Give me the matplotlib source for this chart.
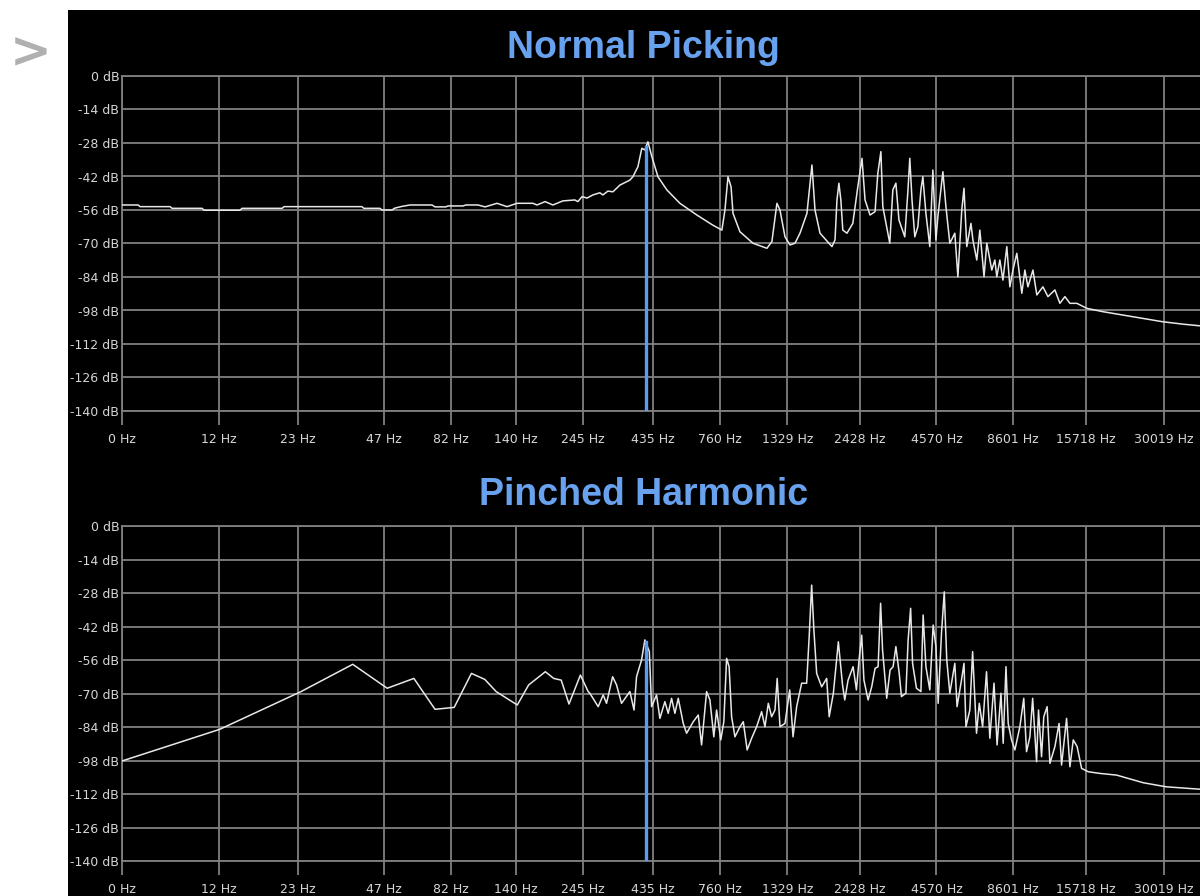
import numpy as np
import matplotlib
matplotlib.use("Agg")
import matplotlib.pyplot as plt
from matplotlib.patches import Rectangle
from matplotlib.ticker import NullLocator

# axis labels as printed by the analyzer ("0 Hz" is the left edge of the log axis)
tick_hz = [5.37, 12, 23, 47, 82, 140, 245, 435, 760, 1329, 2428, 4570, 8601, 15718, 30019]
tick_labels = ["0 Hz", "12 Hz", "23 Hz", "47 Hz", "82 Hz", "140 Hz", "245 Hz", "435 Hz",
               "760 Hz", "1329 Hz", "2428 Hz", "4570 Hz", "8601 Hz", "15718 Hz", "30019 Hz"]
db_ticks = [0, -14, -28, -42, -56, -70, -84, -98, -112, -126, -140]
f_max_log = 4.608

# Normal picking spectrum (log10 Hz, dB)
normal_logf = [0.730, 0.788, 0.795, 0.903, 0.910, 1.018, 1.025, 1.154, 1.162, 1.306,
               1.313, 1.593, 1.600, 1.658, 1.665, 1.701, 1.712, 1.737, 1.766, 1.845,
               1.856, 1.895, 1.903, 1.957, 1.967, 2.011, 2.036, 2.079, 2.115, 2.151,
               2.208, 2.223, 2.252, 2.280, 2.316, 2.359, 2.370, 2.385, 2.403, 2.424,
               2.449, 2.460, 2.478, 2.496, 2.521, 2.557, 2.568, 2.586, 2.600, 2.611,
               2.622, 2.636, 2.658, 2.690, 2.737, 2.798, 2.855, 2.888, 2.899, 2.910,
               2.921, 2.928, 2.953, 3.000, 3.050, 3.068, 3.086, 3.097, 3.115, 3.133,
               3.151, 3.169, 3.194, 3.212, 3.223, 3.241, 3.284, 3.295, 3.302, 3.309,
               3.316, 3.323, 3.338, 3.359, 3.377, 3.392, 3.403, 3.421, 3.439, 3.449,
               3.460, 3.467, 3.492, 3.503, 3.514, 3.525, 3.546, 3.557, 3.564, 3.572,
               3.582, 3.593, 3.604, 3.611, 3.622, 3.636, 3.647, 3.658, 3.665, 3.683,
               3.694, 3.708, 3.726, 3.737, 3.751, 3.759, 3.769, 3.784, 3.791, 3.805,
               3.816, 3.831, 3.841, 3.859, 3.870, 3.877, 3.888, 3.899, 3.913, 3.924,
               3.935, 3.949, 3.967, 3.978, 3.989, 4.007, 4.021, 4.043, 4.061, 4.086,
               4.104, 4.122, 4.140, 4.165, 4.201, 4.259, 4.331, 4.403, 4.474, 4.546,
               4.608]
normal_db = [-53.9, -53.9, -54.6, -54.6, -55.3, -55.3, -56.1, -56.1, -55.3, -55.3,
             -54.6, -54.6, -55.3, -55.3, -56.0, -56.0, -55.2, -54.5, -53.9, -53.9,
             -54.7, -54.7, -54.3, -54.3, -53.9, -53.9, -54.7, -53.2, -54.6, -53.2,
             -53.2, -53.9, -52.5, -53.9, -52.2, -51.8, -52.5, -50.4, -51.0, -49.7,
             -48.8, -49.7, -48.1, -48.4, -45.6, -43.5, -42.1, -37.9, -30.2, -30.9,
             -27.5, -33.7, -42.1, -47.6, -53.2, -58.1, -62.3, -64.4, -56.0, -42.1,
             -46.3, -57.4, -65.1, -69.9, -72.0, -69.2, -53.2, -56.0, -67.2, -70.6,
             -69.9, -65.7, -57.4, -37.2, -56.0, -65.7, -71.3, -68.5, -51.8, -44.8,
             -51.8, -64.4, -65.7, -61.6, -46.3, -34.4, -51.8, -58.1, -56.7, -40.7,
             -31.6, -54.6, -69.9, -47.6, -44.8, -60.2, -67.2, -48.4, -34.4, -51.8,
             -67.2, -63.0, -47.6, -42.1, -57.4, -71.3, -39.3, -68.5, -58.8, -40.0,
             -54.6, -69.9, -65.7, -83.9, -56.0, -46.9, -71.3, -61.6, -68.5, -76.9,
             -64.4, -83.9, -69.9, -81.1, -76.9, -83.9, -76.9, -85.3, -71.3, -88.1,
             -81.1, -74.1, -90.8, -81.1, -88.1, -81.1, -91.5, -88.1, -92.2, -89.4,
             -95.0, -92.2, -95.0, -95.0, -97.1, -98.5, -99.9, -101.3, -102.7, -103.7,
             -104.4]

# Pinched harmonic spectrum (log10 Hz, dB)
pinched_logf = [0.730, 1.081, 1.374, 1.560, 1.684, 1.780, 1.856, 1.925, 1.987, 2.035,
                2.076, 2.152, 2.193, 2.253, 2.283, 2.310, 2.338, 2.379, 2.407, 2.413,
                2.443, 2.461, 2.473, 2.495, 2.509, 2.527, 2.557, 2.572, 2.581, 2.599,
                2.611, 2.627, 2.635, 2.653, 2.665, 2.683, 2.695, 2.707, 2.719, 2.731,
                2.749, 2.761, 2.785, 2.803, 2.815, 2.833, 2.845, 2.859, 2.869, 2.884,
                2.895, 2.905, 2.914, 2.923, 2.935, 2.953, 2.965, 2.979, 2.995, 3.013,
                3.031, 3.043, 3.055, 3.067, 3.079, 3.087, 3.097, 3.115, 3.132, 3.144,
                3.157, 3.175, 3.193, 3.202, 3.211, 3.219, 3.229, 3.247, 3.265, 3.274,
                3.289, 3.307, 3.322, 3.330, 3.342, 3.360, 3.372, 3.382, 3.391, 3.399,
                3.414, 3.427, 3.439, 3.450, 3.459, 3.466, 3.481, 3.493, 3.504, 3.514,
                3.526, 3.534, 3.550, 3.558, 3.567, 3.574, 3.588, 3.604, 3.612, 3.622,
                3.636, 3.648, 3.658, 3.666, 3.678, 3.688, 3.697, 3.708, 3.726, 3.734,
                3.750, 3.759, 3.766, 3.780, 3.790, 3.804, 3.814, 3.826, 3.840, 3.852,
                3.867, 3.878, 3.892, 3.900, 3.910, 3.918, 3.930, 3.942, 3.960, 3.974,
                3.984, 3.996, 4.006, 4.020, 4.027, 4.038, 4.046, 4.058, 4.068, 4.086,
                4.101, 4.110, 4.128, 4.140, 4.152, 4.166, 4.182, 4.206, 4.248, 4.308,
                4.404, 4.487, 4.608]
pinched_db = [-98.2, -85.0, -69.2, -57.8, -67.8, -63.7, -76.6, -75.8, -61.6, -64.1,
              -69.2, -74.8, -66.4, -60.9, -63.7, -64.4, -74.4, -62.3, -69.2, -69.9,
              -75.5, -70.6, -74.1, -63.0, -66.4, -74.1, -69.2, -76.9, -63.0, -56.0,
              -47.6, -52.5, -75.5, -70.6, -80.4, -73.4, -78.3, -72.0, -78.3, -72.0,
              -82.5, -86.6, -81.8, -79.0, -91.5, -69.2, -72.7, -88.1, -76.9, -89.4,
              -81.8, -55.3, -58.8, -79.7, -88.1, -83.9, -81.8, -93.6, -88.7, -83.9,
              -77.6, -83.9, -74.1, -79.7, -76.9, -63.7, -83.9, -82.5, -68.5, -88.1,
              -75.5, -65.7, -65.7, -46.3, -24.7, -43.5, -61.6, -67.2, -63.7, -79.7,
              -69.9, -48.4, -66.4, -72.7, -64.4, -58.8, -68.5, -55.3, -45.6, -64.4,
              -72.7, -67.2, -59.5, -58.8, -32.3, -51.8, -72.0, -60.2, -58.8, -50.4,
              -61.6, -71.3, -69.9, -47.6, -34.4, -57.4, -67.8, -69.2, -37.2, -58.8,
              -68.5, -41.4, -50.4, -74.1, -44.8, -27.5, -56.0, -69.9, -57.4, -75.5,
              -64.4, -57.4, -83.9, -76.9, -52.5, -86.6, -74.1, -83.9, -60.9, -88.7,
              -65.7, -91.5, -69.9, -90.8, -58.8, -82.5, -89.4, -93.6, -83.9, -72.0,
              -94.3, -88.1, -72.0, -98.5, -76.9, -96.4, -79.7, -75.5, -99.2, -92.2,
              -82.5, -99.9, -80.4, -100.6, -89.4, -92.2, -101.3, -102.7, -103.4, -104.1,
              -107.3, -109.0, -110.0]

# fundamental marker (log10 Hz) and its top level in each plot
marker_logf = 2.615
normal_marker_db = -29.5
pinched_marker_db = -48.5

GRID = "#808080"
TITLE_BLUE = "#68a2ef"
MARK_BLUE = "#5b9cf2"

fig = plt.figure(figsize=(12, 8.96), dpi=100)
fig.patch.set_facecolor("white")
fig.add_artist(Rectangle((68 / 1200, 0), 1, 886 / 896, transform=fig.transFigure,
                         facecolor="black", edgecolor="none", zorder=-5))
fig.text(31 / 1200, 1 - 53 / 896, ">", fontsize=36, fontweight="bold", color="#b0b0b0",
         ha="center", va="center", family="DejaVu Sans")


def draw(ax, logf, db, marker_db, title, title_y):
    ax.set_facecolor("black")
    ax.plot(10 ** np.array(logf), db, color="#e8e8e8", lw=1.1, zorder=3)
    ax.plot([10 ** marker_logf] * 2, [-140, marker_db], color=MARK_BLUE, lw=2.4, zorder=4)
    ax.set_xscale("log")
    ax.set_xlim(tick_hz[0], 10 ** f_max_log)
    ax.set_ylim(-140, 0)
    ax.xaxis.set_minor_locator(NullLocator())
    ax.set_xticks(tick_hz)
    ax.set_xticklabels(tick_labels)
    ax.set_yticks(db_ticks)
    ax.set_yticklabels([f"{v} dB" for v in db_ticks])
    ax.grid(True, color=GRID, lw=1.3, zorder=1)
    ax.set_axisbelow(True)
    for s in ["left", "top", "bottom"]:
        ax.spines[s].set_color(GRID)
        ax.spines[s].set_linewidth(1.3)
    ax.spines["right"].set_visible(False)
    ax.tick_params(axis="x", length=10, width=1.3, color=GRID, pad=6,
                   labelsize=9, labelcolor="#d6d6d6")
    ax.tick_params(axis="y", length=0, pad=2, labelsize=9, labelcolor="#d6d6d6")
    fig.text(0.536, title_y, title, ha="center", va="center", fontsize=27,
             fontweight="bold", color=TITLE_BLUE, family="Liberation Sans")


ax1 = fig.add_axes([122 / 1200, 485 / 896, 1078 / 1200, 335 / 896])
draw(ax1, normal_logf, normal_db, normal_marker_db, "Normal Picking", 1 - 48 / 896)

ax2 = fig.add_axes([122 / 1200, 35 / 896, 1078 / 1200, 335 / 896])
draw(ax2, pinched_logf, pinched_db, pinched_marker_db, "Pinched Harmonic", 1 - 495 / 896)

fig.savefig("out.png", dpi=100, facecolor=fig.get_facecolor())
